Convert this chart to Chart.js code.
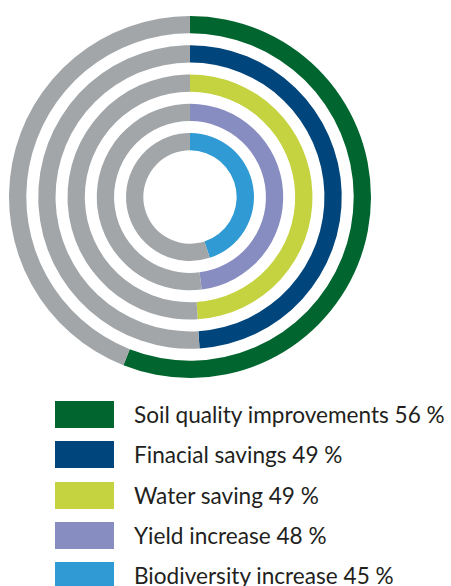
<!DOCTYPE html>
<html>
<head>
<meta charset="utf-8">
<script src="https://cdn.jsdelivr.net/npm/chart.js@4"></script>
<style>
  html, body { margin: 0; padding: 0; background: #fff; }
  body { width: 451px; height: 586px; position: relative; overflow: hidden; }
  #rings { position: absolute; left: 0; top: 0; }
  .item { position: absolute; left: 55px; height: 27px; display: flex; align-items: center; }
  .box { width: 59px; height: 27px; flex: none; }
  .txt { margin-left: 20px; font-family: Lato, sans-serif; font-size: 22.6px; color: #231f20; white-space: nowrap; line-height: 27px; }
</style>
</head>
<body>
<canvas id="rings" width="380" height="394"></canvas>
<div id="legend"></div>
<script>
// outer ring first
const categorias = ['Soil quality improvements', 'Finacial savings', 'Water saving', 'Yield increase', 'Biodiversity increase'];
const percentuais = [56, 49, 49, 48, 45];
const cores = ['#00652f', '#00467c', '#c4d33f', '#888dc1', '#2f9ad3'];
const corResto = '#a2a6a9';

const espessuraAnel = 17;
const espessuraVao = 11.75;

// montar datasets: anel, vão, anel, vão...
let datasets = [];
percentuais.forEach((valor, i) => {
  if (i > 0) {
    datasets.push({
      data: [1],
      backgroundColor: ['rgba(0,0,0,0)'],
      borderWidth: 0,
      weight: espessuraVao
    });
  }
  datasets.push({
    label: categorias[i],
    data: [valor, 100 - valor],
    backgroundColor: [cores[i], corResto],
    borderWidth: 0,
    weight: espessuraAnel
  });
});

const chartAneis = document.getElementById('rings');

new Chart(chartAneis, {
  type: 'doughnut',
  data: {
    labels: ['valor', 'resto'],
    datasets: datasets
  },
  options: {
    responsive: false,
    animation: false,
    radius: 181,
    cutout: 49,
    rotation: 0,
    events: [],
    plugins: {
      legend: { display: false },
      tooltip: { enabled: false }
    }
  }
});

// legenda
const legenda = document.getElementById('legend');
categorias.forEach((nome, i) => {
  const item = document.createElement('div');
  item.className = 'item';
  item.style.top = (401 + i * 40.3) + 'px';
  item.innerHTML = `<div class="box" style="background:${cores[i]}"></div><div class="txt">${nome} ${percentuais[i]} %</div>`;
  legenda.appendChild(item);
});
</script>
</body>
</html>
